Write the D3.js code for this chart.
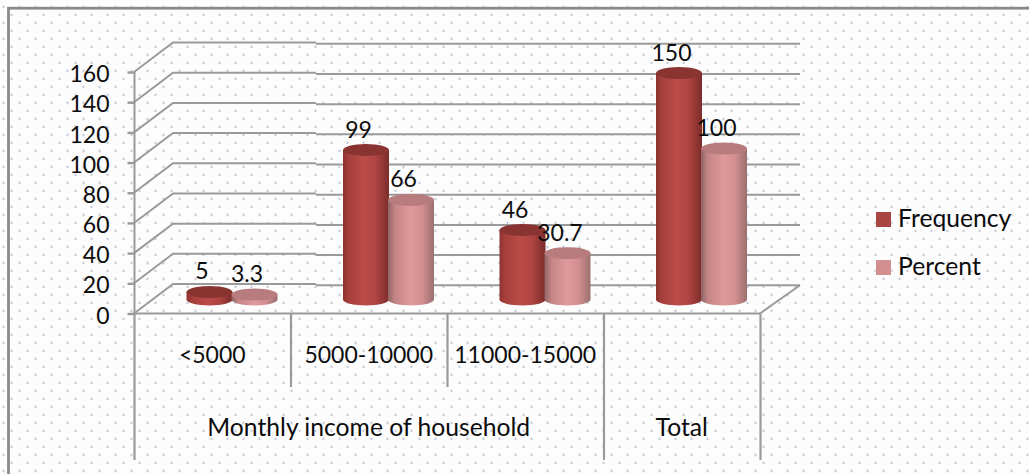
<!DOCTYPE html>
<html><head><meta charset="utf-8">
<script src="https://cdn.jsdelivr.net/npm/d3@7"></script>
<style>html,body{margin:0;padding:0;background:#fff}svg{display:block}text{font-family:Lato,"Open Sans",sans-serif;fill:#0c0c0c}</style>
</head><body><svg id="c" width="1029" height="474"></svg>
<script>
const categories = ["<5000","5000-10000","11000-15000","Total"];
const frequency = [5,99,46,150];
const percent = [3.3,66,30.7,100];
const freqLabels = ["5","99","46","150"];
const pctLabels = ["3.3","66","30.7","100"];
const groupLabels = [{text:"Monthly income of household",from:0,to:3},{text:"Total",from:3,to:4}];
const yTicks = [0,20,40,60,80,100,120,140,160];
const seriesNames = ["Frequency","Percent"];

const W=1029,H=474,FS=23,FSW=24.7;
const svg=d3.select("#c");
const defs=svg.append("defs");
const grid="#9a9a9a";

// dotted paper background
const pat=defs.append("pattern").attr("id","dots").attr("patternUnits","userSpaceOnUse")
  .attr("width",16).attr("height",16);
[[11.5,15],[3.5,7]].forEach(p=>{
  pat.append("circle").attr("cx",p[0]).attr("cy",p[1]).attr("r",1.9).attr("fill","#eeeff3");
  pat.append("circle").attr("cx",p[0]).attr("cy",p[1]).attr("r",0.9).attr("fill","#c4c6d0");
});
svg.append("rect").attr("width",W).attr("height",H).attr("fill","#fdfdfe");
svg.append("rect").attr("width",W).attr("height",H).attr("fill","url(#dots)");

// outer frame
svg.append("rect").attr("x",8.5).attr("y",8.2).attr("width",1040).attr("height",500)
  .attr("fill","none").attr("stroke","#8a8a8a").attr("stroke-width",2.8);

// scales
const y=d3.scaleLinear().domain([0,160]).range([313.5,72]);
const x=d3.scaleBand().domain(d3.range(categories.length)).range([134,760]);
const dx=39,dy=-29.5,seam=316;

// gridlines: side wall + back wall
const gl=svg.append("g").attr("stroke",grid).attr("fill","none").attr("stroke-width",2);
yTicks.forEach(t=>{
  gl.append("path").attr("d",`M134,${y(t)}L${134+dx},${y(t)+dy}L${seam},${y(t)+dy}`);
  gl.append("path").attr("d",`M${seam},${y(t)+dy+1.3}L800,${y(t)+dy+1.3}`);
});
// floor right edge
gl.append("path").attr("d",`M${x.range()[1]},${y(0)}L800,${y(0)+dy+1.3}`);

// y axis
const ya=svg.append("g").attr("transform","translate(134.5,0)")
  .call(d3.axisLeft(y).tickValues(yTicks).tickSize(7).tickPadding(18).tickFormat(d3.format("d")));
ya.select(".domain").attr("stroke",grid).attr("stroke-width",2).attr("d",`M0,${y(160)}V${y(0)}`);
ya.selectAll(".tick line").attr("stroke",grid).attr("stroke-width",2.4);
ya.selectAll("text").attr("font-size",FS).style("fill","#0c0c0c").attr("dy","0.42em");

// category axis multi-level
const ax=svg.append("g").attr("stroke",grid).attr("stroke-width",2.2).attr("fill","none");
ax.append("line").attr("x1",134).attr("x2",760).attr("y1",y(0)).attr("y2",y(0));
d3.range(categories.length+1).forEach(i=>{
  const xx=(i<categories.length?x(i):x.range()[1])+0.5;
  const tall=(i===0||i===3||i===4);
  ax.append("line").attr("x1",xx).attr("x2",xx).attr("y1",y(0)).attr("y2",tall?460:387);
});
svg.append("g").selectAll("text").data(categories.slice(0,3)).join("text")
  .attr("x",(d,i)=>x(i)+x.bandwidth()/2).attr("y",363).attr("text-anchor","middle")
  .attr("font-size",FS).text(d=>d);
svg.append("g").selectAll("text").data(groupLabels).join("text")
  .attr("x",d=>(x(d.from)+(d.to<categories.length?x(d.to):x.range()[1]))/2).attr("y",436)
  .attr("text-anchor","middle").attr("font-size",FSW).text(d=>d.text);

// cylinder gradients
function grad(id,stops){
  const g=defs.append("linearGradient").attr("id",id);
  stops.forEach(s=>g.append("stop").attr("offset",s[0]).attr("stop-color",s[1]));
}
grad("gF",[[0,"#8d3230"],[.12,"#a53f3c"],[.45,"#bb4b49"],[.7,"#b04543"],[1,"#7c2c2a"]]);
grad("gP",[[0,"#8f6464"],[.15,"#c58585"],[.5,"#e09a9b"],[.75,"#d28d8e"],[1,"#9a7070"]]);

const cw=46, ry=6, base=299.5;
const yoff=base-y(0);
const offs=[[75.5,frequency,"gF","#8a3432",freqLabels],[120.5,percent,"gP","#b87c7e",pctLabels]];
const bars=svg.append("g");
offs.forEach(([off,vals,gid,top])=>{
  const g=bars.append("g");
  vals.forEach((v,i)=>{
    const cx=x(i)+off;
    const yt=y(v)+yoff, yb=base;
    const rx=cw/2;
    g.append("path").attr("fill",`url(#${gid})`)
      .attr("d",`M${cx-rx},${yt}L${cx-rx},${yb}A${rx},${ry} 0 0 0 ${cx+rx},${yb}L${cx+rx},${yt}Z`);
    g.append("ellipse").attr("cx",cx).attr("cy",yt).attr("rx",rx).attr("ry",ry).attr("fill",top);
  });
});
// data labels
const lab=svg.append("g");
offs.forEach(([off,vals,gid,top,labs])=>{
  lab.selectAll(null).data(vals).join("text")
    .attr("x",(d,i)=>x(i)+off-7.5)
    .attr("y",d=>y(d)+yoff-12.5).attr("text-anchor","middle").attr("font-size",FS)
    .text((d,i)=>labs[i]);
});

// legend
const leg=svg.append("g");
const legColors=["#a94644","#d18f90"];
seriesNames.forEach((s,i)=>{
  const ly=219.5+i*48;
  leg.append("rect").attr("x",876).attr("y",ly-7.5).attr("width",15).attr("height",15).attr("fill",legColors[i]);
  leg.append("text").attr("x",898).attr("y",ly+7.5).attr("font-size",FSW).text(s);
});
</script></body></html>
